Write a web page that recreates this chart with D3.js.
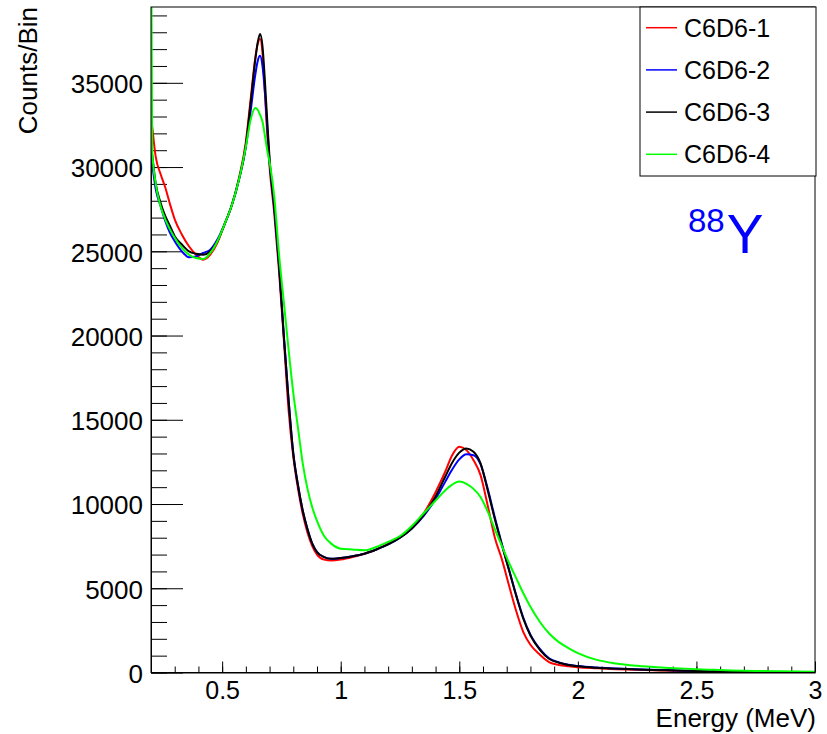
<!DOCTYPE html>
<html lang="en">
<head>
    <meta charset="UTF-8">
    <title>88Y spectra - C6D6 detectors</title>
    <script src="https://d3js.org/d3.v7.min.js"></script>
    <style>
        body { margin: 0; background: #fff; }
        svg, svg text { font-family: "Liberation Sans", Arial, Helvetica, sans-serif; }
    </style>
</head>
<body>
<svg width="827" height="734"></svg>
<script type="text/javascript">

    // energy grid (MeV) the spectra were read at
    var energy = [0.200, 0.205, 0.22, 0.24, 0.26, 0.28, 0.30, 0.33, 0.36, 0.39, 0.42, 0.45, 0.48, 0.51, 0.54, 0.57,
        0.60, 0.62, 0.64, 0.65, 0.66, 0.67, 0.68, 0.69, 0.70, 0.72, 0.74, 0.76, 0.78, 0.80, 0.82, 0.84, 0.86, 0.88,
        0.90, 0.93, 0.96, 1.00, 1.05, 1.10, 1.15, 1.20, 1.25, 1.30, 1.35, 1.40, 1.44, 1.47, 1.50, 1.53, 1.56, 1.59,
        1.62, 1.65, 1.68, 1.71, 1.74, 1.77, 1.80, 1.84, 1.88, 1.92, 1.96, 2.00, 2.08, 2.16, 2.25, 2.35, 2.45, 2.55,
        2.65, 2.75, 2.85, 3.00];

    // counts per bin for each detector
    var c6d6_1 = [33000, 32400, 30600, 29600, 28800, 27800, 26900, 26000, 25300, 24800, 24500, 24800, 25500, 26600, 27700, 29300,
        31500, 34000, 36500, 37300, 37600, 36800, 34500, 32000, 30000, 27200, 23800, 19800, 15600, 12800, 10900, 9400, 8300, 7500,
        7000, 6700, 6650, 6700, 6850, 7050, 7300, 7650, 8050, 8600, 9450, 10700, 11900, 12900, 13400, 13200, 12600, 11700,
        9900, 8000, 6700, 5150, 3650, 2400, 1650, 1050, 600, 450, 370, 310, 250, 200, 160, 120, 90, 60,
        40, 30, 20, 10];
    var c6d6_2 = [30800, 30200, 28700, 27700, 26800, 26100, 25600, 25000, 24650, 24700, 24900, 25100, 25700, 26600, 27700, 29200,
        31200, 33300, 35500, 36300, 36600, 36000, 34500, 32400, 30300, 27500, 24100, 20000, 16200, 13000, 11100, 9600, 8500, 7650,
        7150, 6850, 6750, 6800, 6900, 7050, 7300, 7600, 8000, 8550, 9300, 10300, 11300, 12050, 12650, 12950, 12900, 12350,
        10900, 9200, 7600, 6100, 4600, 3250, 2250, 1400, 830, 600, 460, 380, 290, 240, 190, 150, 110, 75,
        55, 40, 28, 18];
    var c6d6_3 = [31200, 30700, 29000, 27900, 27100, 26500, 25900, 25400, 25000, 24850, 24800, 25000, 25600, 26600, 27700, 29200,
        31300, 33800, 36400, 37400, 37900, 37200, 35200, 32800, 30500, 27600, 24200, 20000, 16200, 13000, 11100, 9600, 8500, 7650,
        7150, 6850, 6750, 6800, 6900, 7050, 7300, 7600, 8000, 8550, 9350, 10450, 11600, 12450, 13050, 13300, 13100, 12400,
        10800, 9100, 7550, 6050, 4550, 3200, 2200, 1350, 800, 580, 450, 370, 280, 230, 180, 140, 100, 70,
        50, 35, 25, 15];
    var c6d6_4 = [45000, 31000, 29000, 27700, 26900, 26300, 25800, 25200, 24800, 24600, 24550, 24900, 25600, 26600, 27700, 29200,
        31200, 32800, 33500, 33400, 33100, 32700, 31900, 31000, 30300, 28200, 24800, 22000, 19200, 16600, 14500, 12400, 10900, 9800,
        9000, 8100, 7650, 7350, 7300, 7250, 7450, 7750, 8100, 8700, 9450, 10200, 10800, 11150, 11330, 11200, 10900, 10400,
        9550, 8500, 7500, 6500, 5600, 4700, 3900, 3000, 2300, 1800, 1450, 1150, 750, 540, 400, 300, 230, 170,
        120, 90, 70, 50];

    var seriesNames  = ["C6D6-1", "C6D6-2", "C6D6-3", "C6D6-4"];
    var seriesValues = [c6d6_1, c6d6_2, c6d6_3, c6d6_4];
    var seriesColors = ["#ff0000", "#0000ff", "#000000", "#00ff00"];

    var xMajorTicks = [0.5, 1, 1.5, 2, 2.5, 3];
    var yMajorTicks = [0, 5000, 10000, 15000, 20000, 25000, 30000, 35000];

    var width  = 827;
    var height = 734;
    var svg = d3.select("svg")
        .attr("width", width)
        .attr("height", height);

    // frame of the pad (note: "top" is reserved on window, so use plot* names)
    var plotLeft = 151, plotRight = 815, plotTop = 7, plotBottom = 672.5;

    var x = d3.scaleLinear().domain([0.2, 3]).range([plotLeft, plotRight]);
    var y = d3.scaleLinear().domain([0, 39500]).range([plotBottom, plotTop]);

    svg.append("clipPath").attr("id", "plot-clip")
        .append("rect")
        .attr("x", plotLeft).attr("y", plotTop)
        .attr("width", plotRight - plotLeft).attr("height", plotBottom - plotTop);

    // minor ticks first, majors drawn over them
    var yMinor = d3.axisLeft(y).tickValues(d3.range(0, 39001, 1000)).tickSize(-16).tickFormat("");
    var xMinor = d3.axisBottom(x).tickValues(d3.range(3, 30, 1).map(function(d) { return d / 10; })).tickSize(-6).tickFormat("");

    svg.append("g").attr("transform", "translate(" + plotLeft + ",0)").call(yMinor)
        .call(function(g) { g.select(".domain").remove(); });
    svg.append("g").attr("transform", "translate(0," + plotBottom + ")").call(xMinor)
        .call(function(g) { g.select(".domain").remove(); });

    var yAxis = svg.append("g")
        .attr("transform", "translate(" + plotLeft + ",0)")
        .call(d3.axisLeft(y).tickValues(yMajorTicks).tickSize(-32).tickPadding(8).tickSizeOuter(0)
            .tickFormat(d3.format("d")));
    yAxis.attr("font-family", null).attr("font-size", null);
    yAxis.selectAll("text").style("font-size", "26px").attr("dy", "0.38em").attr("fill", "#000");

    var xAxis = svg.append("g")
        .attr("transform", "translate(0," + plotBottom + ")")
        .call(d3.axisBottom(x).tickValues(xMajorTicks).tickSize(-11).tickPadding(9).tickSizeOuter(0)
            .tickFormat(function(d) { return String(d); }));
    xAxis.attr("font-family", null).attr("font-size", null);
    xAxis.selectAll("text").style("font-size", "25px").attr("fill", "#000");

    svg.selectAll(".tick line").attr("stroke", "#000");
    svg.selectAll(".domain").attr("stroke", "#000");

    // the spectra
    var line = d3.line()
        .x(function(d, i) { return x(energy[i]); })
        .y(function(d) { return y(d); })
        .curve(d3.curveMonotoneX);

    svg.append("g")
        .attr("clip-path", "url(#plot-clip)")
        .selectAll("path")
        .data(seriesValues)
        .enter().append("path")
        .attr("d", line)
        .attr("fill", "none")
        .attr("stroke", function(d, i) { return seriesColors[i]; })
        .attr("stroke-width", 2)
        .attr("stroke-linejoin", "round");

    // frame
    svg.append("rect")
        .attr("x", plotLeft).attr("y", plotTop)
        .attr("width", plotRight - plotLeft).attr("height", plotBottom - plotTop)
        .attr("fill", "none").attr("stroke", "#000").attr("stroke-width", 1);

    // axis titles
    svg.append("text")
        .attr("transform", "translate(37," + plotTop + ") rotate(-90)")
        .attr("text-anchor", "end")
        .style("font-size", "26px")
        .text("Counts/Bin");

    svg.append("text")
        .attr("x", plotRight + 1).attr("y", 727)
        .attr("text-anchor", "end")
        .style("font-size", "26px")
        .text("Energy (MeV)");

    // isotope label
    var iso = svg.append("text").attr("x", 688).attr("y", 253).attr("fill", "#0000ff");
    iso.append("tspan").attr("dy", -21).style("font-size", "33px").text("88");
    iso.append("tspan").attr("dy", 21).attr("dx", 2).style("font-size", "55px").text("Y");

    // legend
    var legend = svg.append("g");
    legend.append("rect")
        .attr("x", 640).attr("y", plotTop)
        .attr("width", plotRight + 1 - 640).attr("height", 169)
        .attr("fill", "#fff").attr("stroke", "#000").attr("stroke-width", 1);

    var entry = legend.selectAll(".entry")
        .data(seriesNames)
        .enter().append("g")
        .attr("class", "entry")
        .attr("transform", function(d, i) { return "translate(0," + (27.7 + i * 42.2) + ")"; });
    entry.append("line")
        .attr("x1", 646).attr("x2", 677)
        .attr("stroke", function(d, i) { return seriesColors[i]; })
        .attr("stroke-width", 1.5);
    entry.append("text")
        .attr("x", 684).attr("dy", "0.36em")
        .style("font-size", "25px")
        .text(function(d) { return d; });

</script>
</body>
</html>
